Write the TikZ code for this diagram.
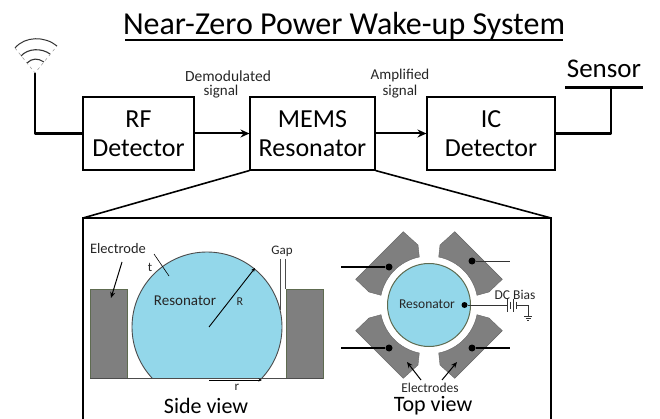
\documentclass[tikz,border=0pt]{standalone}
\usepackage{fontspec}
\setmainfont{Carlito}
\usetikzlibrary{arrows.meta}
\definecolor{resblue}{HTML}{93D7EA}
\definecolor{elgray}{HTML}{7F7F7F}
\definecolor{elline}{HTML}{5E6B50}
\definecolor{txt}{HTML}{262626}
\tikzset{
  block/.style={draw=black,line width=1.1pt,fill=white,minimum width=#1,minimum height=73pt,inner sep=0pt,align=center,font=\fontsize{26}{29}\selectfont},
  wire/.style={line width=2.2pt,line join=round},
  flow/.style={line width=2pt,-{Stealth[length=9pt,width=8pt]}},
  small/.style={inner sep=0pt,font=\fontsize{14.5}{16}\selectfont,text=txt},
  caption/.style={inner sep=0pt,font=\fontsize{22}{24}\selectfont},
  pointer/.style={line width=1pt,-{Stealth[length=6pt,width=5pt]}},
  dot/.style={circle,fill=black,inner sep=0pt,minimum size=7pt},
  electrodeshape/.style={fill=elgray,draw=elgray!80!black,line width=.4pt},
  sidepad/.style={fill=elgray,draw=elline,line width=.7pt},
}
\newcommand{\electrodepath}{(-25.7,-73.3) -- (-11,-60) -- (-9.7,-48) .. controls (-29,-44.1) and (-44.1,-29) .. (-48,-9.7) -- (-60,-13) -- (-73.3,-25.7) -- cycle}
\begin{document}
\begin{tikzpicture}[x=1pt,y=-1pt]
\useasboundingbox (0,0) rectangle (660,419);
% title
\node[inner sep=0pt,font=\fontsize{32}{34}\selectfont] (title) at (344,26) {Near-Zero Power Wake-up System};
\coordinate (tl) at (125,40); \coordinate (tr) at (563,40);
\draw[line width=1.6pt] (tl) -- (tr);
% blocks
\node[block=111pt] (rf) at (138.5,133.5) {RF\\Detector};
\node[block=125pt] (mems) at (312.5,133.5) {MEMS\\Resonator};
\node[block=128pt] (ic) at (491,133.5) {IC\\Detector};
\draw[flow] (rf) -- (mems);
\draw[flow] (mems) -- (ic);
\node[small,font=\fontsize{15.5}{17}\selectfont] (demod) at (228,76) {Demodulated};
\node[small,font=\fontsize{15}{17}\selectfont] (sig1) at (221,92) {signal};
\node[small,font=\fontsize{15}{17}\selectfont] (ampl) at (400,76) {Amplified};
\node[small,font=\fontsize{15}{17}\selectfont] (sig2) at (400,92) {signal};
% antenna
\coordinate (ant) at (35,73);
\coordinate (antc) at (35,133.5);
\draw[wire] (ant) -- (antc) -- (rf.west);
\draw[line width=1pt,black!80] (15,48) .. controls (25,36) and (45,36) .. (57,46);
\draw[line width=1.1pt,black!80] (21,56) .. controls (28,48) and (42,48) .. (50,54);
\draw[line width=1.1pt,black!80] (27,63) .. controls (32,58) and (38,58) .. (44,62);
\draw[line width=.4pt,black!50,dashed] (15,48) -- (35,73) -- (57,46);
% sensor
\node[inner sep=0pt,font=\fontsize{27}{29}\selectfont] (sensor) at (604,69) {Sensor};
\coordinate (sl) at (565,87.5); \coordinate (sr) at (643,87.5);
\coordinate (sm) at (611,87.5); \coordinate (sb) at (611,133.5);
\draw[wire] (sl) -- (sr);
\draw[wire] (sm) -- (sb) -- (ic.east);
% panel
\coordinate (pl) at (83,218); \coordinate (pr) at (551,218);
\coordinate (pbl) at (83,420); \coordinate (pbr) at (551,420);
\draw[line width=1.6pt] (pbl) -- (pl) -- (pr) -- (pbr);
\draw[line width=1.6pt] (mems.south west) -- (pl);
\draw[line width=1.6pt] (mems.south east) -- (pr);
% side view
\draw[sidepad] (90,289) rectangle (127,378);
\draw[sidepad] (286,289) rectangle (323,378);
\begin{scope}
\clip (120,240) rectangle (300,378);
\draw[fill=resblue,draw=black!70,line width=.9pt] (207,327) circle[radius=75];
\end{scope}
\coordinate (base1) at (90,378); \coordinate (base2) at (323,378);
\draw[line width=.9pt,black!70] (base1) -- (base2);
\node[small,font=\fontsize{15}{17}\selectfont] (reslab) at (185,301) {Resonator};
\node[small,font=\fontsize{12}{14}\selectfont] (rlab) at (240,302) {R};
\node[small] (ellab) at (118,249) {Electrode};
\node[small,font=\fontsize{13}{15}\selectfont] (tlab) at (150,267) {t};
\node[small,font=\fontsize{13}{15}\selectfont] (gaplab) at (282,251) {Gap};
\node[small,font=\fontsize{13}{15}\selectfont] (rsmall) at (237,387.5) {r};
\node[caption] (sideview) at (206,406) {Side view};
\coordinate (cen) at (209,327); \coordinate (rim) at (255,268);
\draw[line width=.9pt,-{Stealth[length=4pt,width=3.5pt]}] (cen) -- (rim);
\coordinate (e1) at (122,262); \coordinate (e2) at (111,298);
\draw[pointer] (e1) -- (e2);
\coordinate (t1) at (154,254); \coordinate (t2) at (169,276);
\draw[line width=.6pt] (t1) -- (t2);
\coordinate (g1) at (280.5,259); \coordinate (g2) at (280.5,310);
\coordinate (g3) at (285.5,259); \coordinate (g4) at (285.5,289);
\draw[line width=.6pt,black!70] (g1) -- (g2) (g3) -- (g4);
\coordinate (r1) at (209,380); \coordinate (r2) at (262,380);
\draw[line width=.7pt,-{Stealth[length=3.5pt,width=3pt]}] (r1) -- (r2);
% top view
\begin{scope}[shift={(429,305)}]
\fill[electrodeshape] \electrodepath;
\begin{scope}[xscale=-1]\fill[electrodeshape] \electrodepath;\end{scope}
\begin{scope}[yscale=-1]\fill[electrodeshape] \electrodepath;\end{scope}
\begin{scope}[xscale=-1,yscale=-1]\fill[electrodeshape] \electrodepath;\end{scope}
\end{scope}
\node[circle,draw=elline,line width=1pt,fill=resblue,minimum size=83pt,inner sep=0pt] (topres) at (429,305) {};
\node[small,font=\fontsize{13.5}{15}\selectfont] (toplab) at (427,304.5) {Resonator};
\node[dot] (d1) at (389,267) {};
\node[dot] (d2) at (472,261) {};
\node[dot] (d3) at (389,348) {};
\node[dot] (d4) at (472,348) {};
\node[dot,minimum size=6pt] (d5) at (464.5,305) {};
\coordinate (w1) at (341,267); \coordinate (w2) at (510,261);
\coordinate (w3) at (341,348); \coordinate (w4) at (510,348);
\draw[line width=1.6pt] (w1) -- (d1);
\draw[line width=.9pt,black!80] (d2) -- (w2);
\draw[line width=1.6pt] (w3) -- (d3);
\draw[line width=1.6pt] (d4) -- (w4);
% DC bias
\coordinate (b1) at (507.5,305); \coordinate (b2) at (516.5,305);
\coordinate (g0) at (528,305); \coordinate (g5) at (528,316);
\draw[line width=.8pt,black!80] (d5) -- (b1) (b2) -- (g0) -- (g5);
\foreach \xp/\hh in {507.5/6.5,510.5/3.5,513.5/6.5,516.5/3.5}{\draw[line width=.7pt,black!80] (\xp,305-\hh) -- (\xp,305+\hh);}
\draw[line width=.7pt,black!80] (524,316) -- (532,316) (525.5,318) -- (530.5,318) (527,320) -- (529,320);
\node[small,font=\fontsize{13.5}{15}\selectfont] (dclab) at (515,295) {DC Bias};
\node[small,font=\fontsize{13.5}{15}\selectfont] (elabs) at (430,388) {Electrodes};
\node[caption] (topview) at (433,406) {Top view};
\coordinate (a1) at (421,380); \coordinate (a2) at (407,362);
\coordinate (a3) at (442,380); \coordinate (a4) at (457,362);
\draw[pointer] (a1) -- (a2);
\draw[pointer] (a3) -- (a4);
\end{tikzpicture}
\end{document}
